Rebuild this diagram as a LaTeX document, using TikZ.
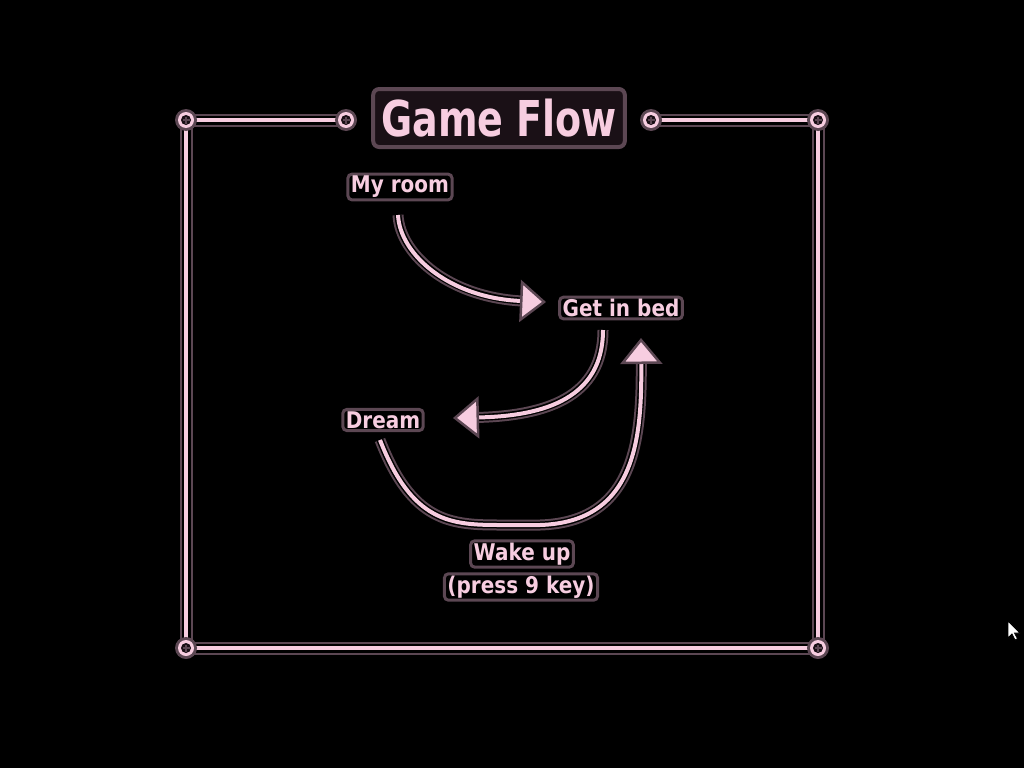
\documentclass[tikz,border=0pt]{standalone}
\usepackage{fontspec}
\setmainfont{DejaVu Sans}
\usetikzlibrary{arrows.meta}
\definecolor{pk}{HTML}{F7CDE0}
\definecolor{gr}{HTML}{5C4753}
\definecolor{dk}{HTML}{1A1016}
\begin{document}
\begin{tikzpicture}[x=1pt,y=-1pt,
  lbl/.style={fill=black, draw=gr, line width=3pt, rounded corners=4pt, inner xsep=3pt, inner ysep=2pt,
    text=pk, font=\bfseries\fontsize{20}{22}\selectfont},
  titlebox/.style={fill=dk, draw=gr, line width=4pt, rounded corners=6pt, inner xsep=8pt,
    minimum height=58pt, text=pk, font=\bfseries\fontsize{38}{40}\selectfont},
  frm/.style={draw=pk, line width=4pt, preaction={draw=gr, line width=13pt}, preaction={draw=black, line width=9pt}},
  flow/.style={draw=pk, line width=4pt, line cap=butt,
    -{Triangle[length=26pt,width=42pt,fill=pk,color=gr,line width=2.5pt]},
    preaction={draw=gr, line width=11pt, -, shorten >=22pt},
    preaction={draw=black, line width=7pt, -, shorten >=22pt}},
  bolt/.pic={
    \fill[gr] (0,0) circle[radius=11];
    \fill[pk] (0,0) circle[radius=8];
    \fill[dk] (0,0) circle[radius=5];
    \draw[gr, line width=2pt] (-3.5,0) -- (3.5,0) (0,-3.5) -- (0,3.5);
  }]
\fill[black] (0,0) rectangle (1024,768);
\useasboundingbox (0,0) rectangle (1024,768);

% frame
\coordinate (tl) at (186,120);
\coordinate (tr) at (818,120);
\coordinate (bl) at (186,648);
\coordinate (br) at (818,648);
\coordinate (tml) at (346,120);
\coordinate (tmr) at (651,120);
\draw[frm] (tml) -- (tl) -- (bl) -- (br) -- (tr) -- (tmr);
\foreach \c in {tl,tr,bl,br,tml,tmr} \pic at (\c) {bolt};

% title
\node[titlebox] (title) at (499,118) {\scalebox{1}[1.3]{Game Flow}};

% labels
\node[lbl] (myroom) at (400,187) {\scalebox{1}[1.15]{My room}};
\node[lbl] (bed) at (621,308) {\scalebox{1}[1.15]{Get in bed}};
\node[lbl] (dream) at (383,420) {\scalebox{1}[1.15]{Dream}};
\node[lbl] (wake) at (522,554) {\scalebox{1}[1.15]{Wake up}};
\node[lbl] (press) at (521,587) {\scalebox{1}[1.15]{(press 9 key)}};

% arrow end points
\coordinate (a1s) at (398,215);
\coordinate (a1e) at (546,302);
\coordinate (a2s) at (603,330);
\coordinate (a2e) at (453,418);
\coordinate (a3s) at (380,440);
\coordinate (a3e) at (641,338);

\draw[flow] (a1s) .. controls (400,255) and (450,298) .. (a1e);
\draw[flow] (a2s) .. controls (603,398) and (545,416) .. (a2e);
\draw[flow] (a3s) .. controls (412,522) and (450,525) .. (500,525)
   -- (540,525) .. controls (635,522) and (642,440) .. (a3e);

% mouse pointer
\coordinate (cur) at (1008,621);
\filldraw[fill=white, draw=black, line width=0.8pt] (cur) -- ++(0,17) -- ++(4,-4) -- ++(3,6) -- ++(2.5,-1.2) -- ++(-3,-5.8) -- ++(5.5,0) -- cycle;
\end{tikzpicture}
\end{document}
